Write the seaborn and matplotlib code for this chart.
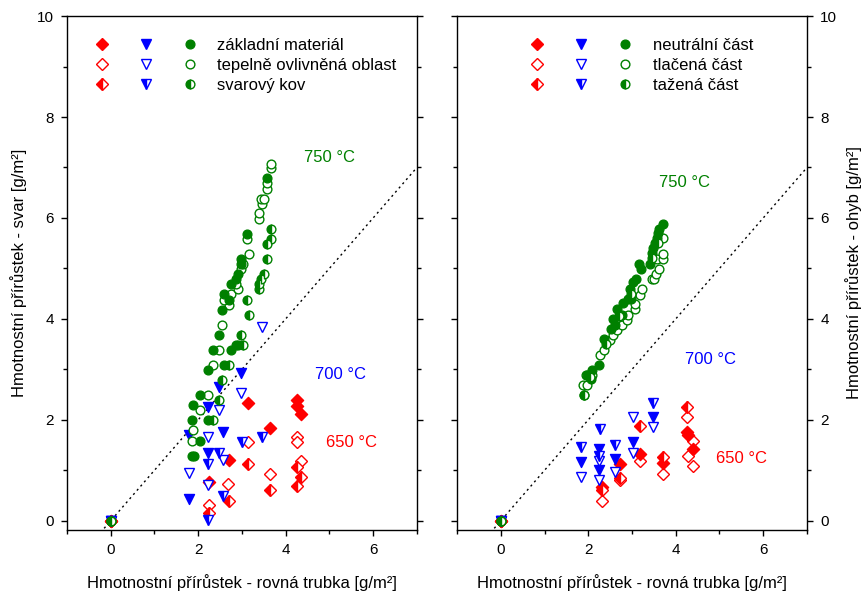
import matplotlib
matplotlib.use("Agg")
import matplotlib.pyplot as plt
import seaborn as sns
from matplotlib.lines import Line2D
from matplotlib.legend_handler import HandlerTuple
from matplotlib.ticker import MultipleLocator

# ---- DATA: svar (left panel) ----
# 650 °C
sv650_zm_x = [0, 2.25, 2.70, 3.14, 3.64, 4.25, 4.25, 4.34]
sv650_zm_y = [0, 0.77, 1.21, 2.34, 1.84, 2.40, 2.28, 2.12]
sv650_too_x = [0, 2.25, 2.68, 3.14, 3.64, 4.25, 4.25, 4.34]
sv650_too_y = [0, 0.32, 0.73, 1.56, 0.93, 1.66, 1.56, 1.19]
sv650_sk_x = [0, 2.25, 2.70, 3.14, 3.64, 4.25, 4.34, 4.25]
sv650_sk_y = [0, 0.16, 0.40, 1.13, 0.60, 1.07, 0.87, 0.68]
# 700 °C
sv700_zm_x = [0, 1.80, 1.80, 2.23, 2.23, 2.48, 2.57, 2.98]
sv700_zm_y = [0, 0.44, 1.70, 1.35, 2.26, 2.65, 1.76, 2.93]
sv700_too_x = [0, 1.80, 2.23, 2.23, 2.48, 2.57, 2.98, 3.45]
sv700_too_y = [0, 0.95, 0.71, 1.66, 2.20, 1.21, 2.53, 3.84]
sv700_sk_x = [0, 2.23, 2.23, 2.48, 2.57, 3.00, 3.45]
sv700_sk_y = [0, 0.02, 1.13, 1.35, 0.50, 1.56, 1.66]
# 750 °C
sv750_zm_x = [0, 1.86, 1.90, 1.86, 2.04, 2.04, 1.89, 2.23, 2.23, 2.34, 2.60, 2.75,
              2.86, 2.92, 2.48, 2.55, 2.70, 2.60, 2.75, 2.86, 2.90, 2.98, 2.98, 3.11, 3.57]
sv750_zm_y = [0, 1.29, 1.29, 2.00, 1.58, 2.50, 2.30, 2.00, 2.99, 3.39, 3.09, 3.39,
              3.48, 3.48, 3.68, 4.18, 4.38, 4.49, 4.69, 4.79, 4.89, 5.09, 5.19, 5.68, 6.79]
sv750_too_x = [0, 1.86, 1.89, 2.04, 2.23, 2.34, 2.48, 2.55, 2.70, 2.60, 2.75, 2.90,
               2.86, 2.98, 3.02, 3.16, 3.11, 3.39, 3.39, 3.46, 3.43, 3.50, 3.57, 3.57, 3.66, 3.66]
sv750_too_y = [0, 1.58, 1.80, 2.20, 2.50, 3.09, 3.39, 3.88, 4.28, 4.38, 4.49, 4.59,
               4.69, 4.99, 5.09, 5.29, 5.58, 5.98, 6.10, 6.28, 6.38, 6.38, 6.57, 6.69, 6.99, 7.07]
sv750_sk_x = [0, 2.34, 2.48, 2.55, 2.70, 3.02, 2.98, 3.16, 3.11, 3.39, 3.39, 3.43,
              3.50, 3.57, 3.57, 3.66, 3.66]
sv750_sk_y = [0, 2.00, 2.40, 2.79, 3.09, 3.48, 3.68, 4.08, 4.38, 4.59, 4.69, 4.79,
              4.89, 5.19, 5.49, 5.58, 5.78]

# ---- DATA: ohyb (right panel) ----
oh650_nc_x = [0, 2.32, 2.73, 3.18, 3.70, 4.25, 4.28, 4.39]
oh650_nc_y = [0, 0.66, 1.13, 1.33, 1.15, 1.76, 1.70, 1.42]
oh650_tl_x = [0, 2.32, 2.73, 3.18, 3.70, 4.25, 4.39, 4.28, 4.39]
oh650_tl_y = [0, 0.40, 0.81, 1.19, 0.93, 2.06, 1.58, 1.29, 1.09]
oh650_ta_x = [0, 2.32, 2.73, 3.18, 3.70, 4.25]
oh650_ta_y = [0, 0.61, 0.85, 1.88, 1.27, 2.26]

oh700_nc_x = [0, 1.84, 2.25, 2.25, 2.61, 3.02, 3.48]
oh700_nc_y = [0, 1.17, 1.42, 1.00, 1.23, 1.56, 2.06]
oh700_tl_x = [0, 1.84, 2.25, 2.25, 2.61, 3.02, 3.02, 3.48]
oh700_tl_y = [0, 0.87, 1.19, 0.81, 0.97, 1.35, 2.06, 1.86]
oh700_ta_x = [0, 1.84, 2.27, 2.25, 2.61, 3.48]
oh700_ta_y = [0, 1.46, 1.82, 1.29, 1.50, 2.34]

oh750_nc_x = [0, 1.91, 1.98, 2.07, 2.09, 2.25, 2.36, 2.52, 2.61, 2.57, 2.77, 2.66, 2.80, 2.91,
              2.98, 2.95, 3.02, 3.09, 3.20, 3.16, 3.41, 3.45, 3.48, 3.52, 3.56, 3.60, 3.62, 3.70]
oh750_nc_y = [0, 2.50, 2.89, 2.80, 2.99, 3.09, 3.60, 3.80, 3.88, 4.00, 4.08, 4.20, 4.32, 4.40,
              4.40, 4.59, 4.73, 4.79, 4.99, 5.09, 5.09, 5.30, 5.40, 5.50, 5.60, 5.70, 5.78, 5.88]
oh750_tl_x = [0, 1.89, 1.98, 1.95, 2.09, 2.27, 2.36, 2.50, 2.57, 2.66, 2.77, 2.88, 2.91, 3.07,
              3.07, 3.18, 3.22, 3.45, 3.50, 3.55, 3.62, 3.56, 3.70, 3.70, 3.70]
oh750_tl_y = [0, 2.69, 2.69, 2.89, 2.89, 3.29, 3.39, 3.58, 3.68, 3.78, 3.88, 3.98, 4.08, 4.20,
              4.30, 4.48, 4.59, 4.79, 4.79, 4.89, 4.99, 5.19, 5.19, 5.29, 5.60]
oh750_ta_x = [0, 1.91, 2.05, 2.40, 2.70, 2.98, 3.45, 3.60]
oh750_ta_y = [0, 2.50, 2.85, 3.50, 4.05, 4.50, 5.20, 5.50]

diag = [-0.15, 7]

RED, BLUE, GREEN = "#FF0000", "#0000FF", "#008000"
MS = {"D": 6.2, "v": 7.2, "o": 6.3}

sns.set_theme(style="ticks")
plt.rcParams['font.family'] = ['Liberation Sans', 'DejaVu Sans']
plt.rcParams['text.color'] = 'black'
plt.rcParams['axes.labelcolor'] = 'black'
plt.rcParams['xtick.color'] = 'black'
plt.rcParams['ytick.color'] = 'black'


def draw(ax, x, y, color, marker, fill):
    ms = MS[marker]
    if fill == "full":
        sns.scatterplot(x=x, y=y, ax=ax, marker=marker, color=color, s=ms ** 2,
                        edgecolor=color, linewidth=1, zorder=3, legend=False)
    elif fill == "none":
        ax.plot(x, y, ls="none", marker=marker, ms=ms, mfc="white", mec=color,
                mew=1, zorder=3)
    else:
        ax.plot(x, y, ls="none", marker=marker, ms=ms, color=color, fillstyle="left",
                mfc=color, mfcalt="white", mec=color, mew=1, zorder=3)


def handle(color, marker, fill):
    if fill == "full":
        return Line2D([], [], ls="none", marker=marker, ms=MS[marker], color=color, mec=color)
    if fill == "none":
        return Line2D([], [], ls="none", marker=marker, ms=MS[marker], mfc="white", mec=color)
    return Line2D([], [], ls="none", marker=marker, ms=MS[marker], color=color,
                  fillstyle="left", mfcalt="white", mec=color)


fig = plt.figure(figsize=(8.64, 5.96), dpi=100)
ax1 = fig.add_axes([0.0775, 0.111, 0.405, 0.862])
ax2 = fig.add_axes([0.529, 0.111, 0.405, 0.862])

left_series = [
    (sv650_zm_x, sv650_zm_y, RED, "D", "full"), (sv650_too_x, sv650_too_y, RED, "D", "none"),
    (sv650_sk_x, sv650_sk_y, RED, "D", "half"),
    (sv700_zm_x, sv700_zm_y, BLUE, "v", "full"), (sv700_too_x, sv700_too_y, BLUE, "v", "none"),
    (sv700_sk_x, sv700_sk_y, BLUE, "v", "half"),
    (sv750_too_x, sv750_too_y, GREEN, "o", "none"), (sv750_zm_x, sv750_zm_y, GREEN, "o", "full"),
    (sv750_sk_x, sv750_sk_y, GREEN, "o", "half"),
]
right_series = [
    (oh650_tl_x, oh650_tl_y, RED, "D", "none"), (oh650_nc_x, oh650_nc_y, RED, "D", "full"),
    (oh650_ta_x, oh650_ta_y, RED, "D", "half"),
    (oh700_tl_x, oh700_tl_y, BLUE, "v", "none"), (oh700_nc_x, oh700_nc_y, BLUE, "v", "full"),
    (oh700_ta_x, oh700_ta_y, BLUE, "v", "half"),
    (oh750_tl_x, oh750_tl_y, GREEN, "o", "none"), (oh750_nc_x, oh750_nc_y, GREEN, "o", "full"),
    (oh750_ta_x, oh750_ta_y, GREEN, "o", "half"),
]

for ax, series in [(ax1, left_series), (ax2, right_series)]:
    ax.plot(diag, diag, ls=(0, (1.5, 2.5)), color="black", lw=1, zorder=1)
    for x, y, c, m, f in series:
        draw(ax, x, y, c, m, f)
    ax.set_xlim(-1, 7)
    ax.set_ylim(-0.18, 10)
    ax.xaxis.set_major_locator(MultipleLocator(2))
    ax.xaxis.set_minor_locator(MultipleLocator(1))
    ax.yaxis.set_major_locator(MultipleLocator(2))
    ax.yaxis.set_minor_locator(MultipleLocator(1))
    ax.tick_params(which="both", direction="out", labelsize=11, width=1, color="black",
                   labelcolor="black", left=True, right=True, top=False, bottom=True)
    ax.tick_params(which="major", length=4.5, pad=5)
    ax.tick_params(which="minor", length=3)
    for sp in ax.spines.values():
        sp.set_visible(True)
        sp.set_color("black")
        sp.set_linewidth(1)
    ax.set_xlabel("Hmotnostní přírůstek - rovná trubka [g/m²]", fontsize=12, labelpad=12)

ax1.tick_params(labelleft=True, labelright=False)
ax1.set_ylabel("Hmotnostní přírůstek - svar [g/m²]", fontsize=12, labelpad=7)
ax2.tick_params(labelleft=False, labelright=True)
ax2.yaxis.set_label_position("right")
ax2.set_ylabel("Hmotnostní přírůstek - ohyb [g/m²]", fontsize=12, labelpad=6)

ax1.text(5.0, 7.2, "750 °C", color=GREEN, fontsize=12, ha="center", va="center")
ax1.text(5.25, 2.9, "700 °C", color=BLUE, fontsize=12, ha="center", va="center")
ax1.text(5.5, 1.55, "650 °C", color=RED, fontsize=12, ha="center", va="center")
ax2.text(4.2, 6.7, "750 °C", color=GREEN, fontsize=12, ha="center", va="center")
ax2.text(4.8, 3.2, "700 °C", color=BLUE, fontsize=12, ha="center", va="center")
ax2.text(5.5, 1.23, "650 °C", color=RED, fontsize=12, ha="center", va="center")

left_labels = ["základní materiál", "tepelně ovlivněná oblast", "svarový kov"]
right_labels = ["neutrální část", "tlačená část", "tažená část"]
fills = ["full", "none", "half"]

for ax, labels, x0 in [(ax1, left_labels, 0.037), (ax2, right_labels, 0.166)]:
    hs = [(handle(RED, "D", f), handle(BLUE, "v", f), handle(GREEN, "o", f)) for f in fills]
    ax.legend(hs, labels, handler_map={tuple: HandlerTuple(ndivide=None, pad=0)},
              loc="upper left", bbox_to_anchor=(x0, 0.958), frameon=False, fontsize=12,
              handlelength=7.9, handletextpad=0.35, labelspacing=0.3,
              borderaxespad=0, borderpad=0)

fig.savefig("out.png", dpi=100)
